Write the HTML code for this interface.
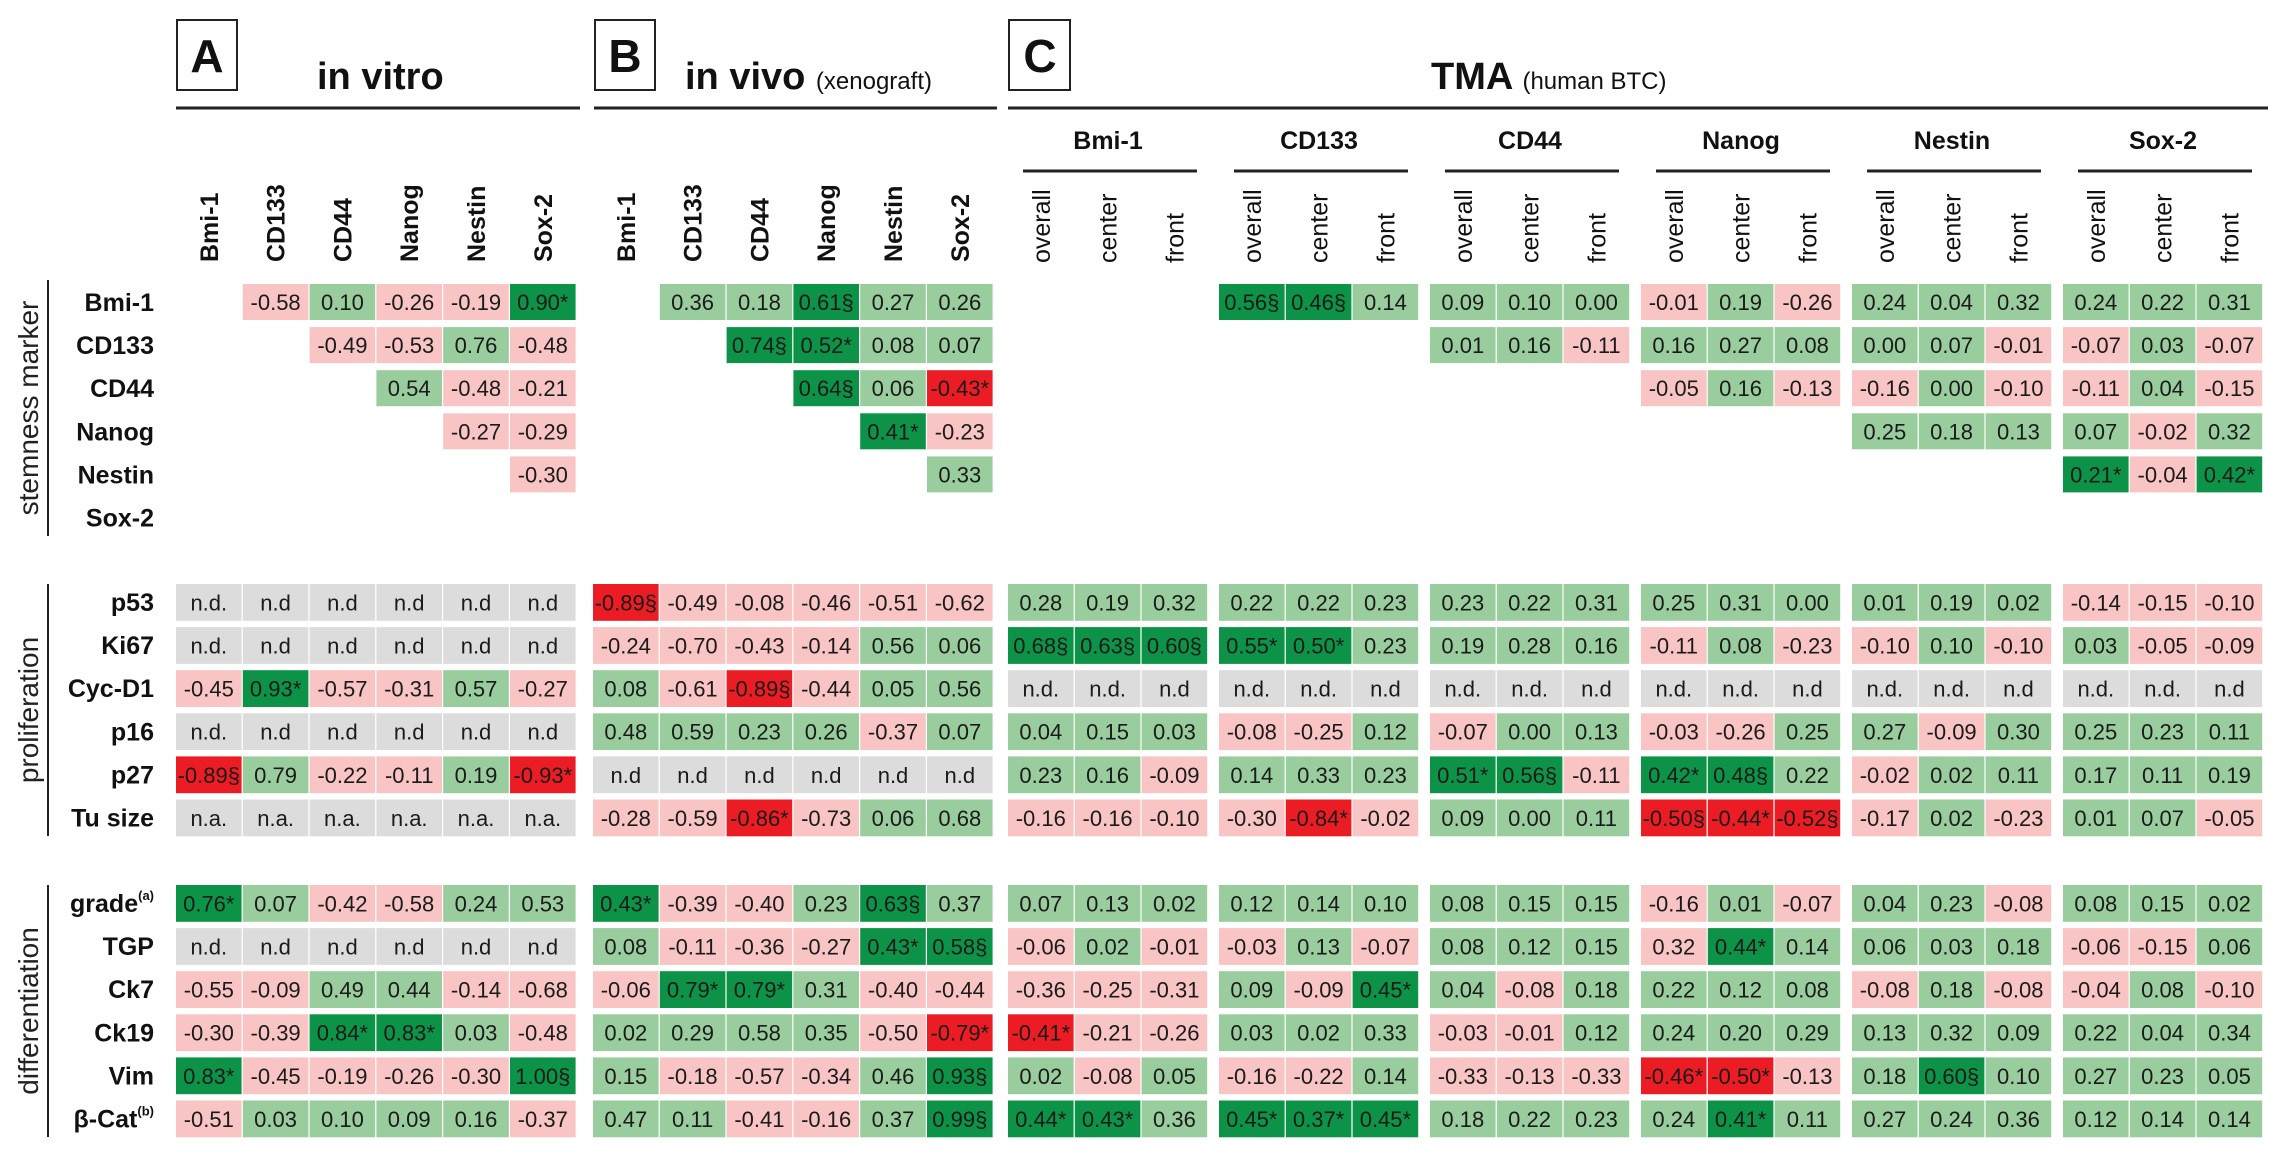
<!DOCTYPE html>
<html><head><meta charset="utf-8"><style>
html,body{margin:0;padding:0;background:#fff;}
svg{display:block;font-family:"Liberation Sans",Arial,sans-serif;}
</style></head><body>
<svg id="fig" width="2280" height="1165" viewBox="0 0 2280 1165" xmlns="http://www.w3.org/2000/svg">
<rect x="0" y="0" width="2280" height="1165" fill="#fff"/>
<g id="g-head">
<rect x="177" y="20" width="60" height="70" fill="none" stroke="#222" stroke-width="2"/>
<text x="207" y="72" text-anchor="middle" font-size="46" font-weight="bold" fill="#111">A</text>
<text x="317" y="89" font-size="38" font-weight="bold" fill="#111">in vitro</text>
<line x1="176" y1="108" x2="580" y2="108" stroke="#222" stroke-width="3"/>
<rect x="595" y="20" width="60" height="70" fill="none" stroke="#222" stroke-width="2"/>
<text x="625" y="72" text-anchor="middle" font-size="46" font-weight="bold" fill="#111">B</text>
<text x="685" y="89" font-size="38" font-weight="bold" fill="#111">in vivo <tspan font-size="24" font-weight="normal">(xenograft)</tspan></text>
<line x1="594" y1="108" x2="997" y2="108" stroke="#222" stroke-width="3"/>
<rect x="1009" y="20" width="61" height="70" fill="none" stroke="#222" stroke-width="2"/>
<text x="1040" y="72" text-anchor="middle" font-size="46" font-weight="bold" fill="#111">C</text>
<text x="1431" y="89" font-size="38" font-weight="bold" fill="#111">TMA <tspan font-size="24" font-weight="normal">(human BTC)</tspan></text>
<line x1="1008" y1="108" x2="2268" y2="108" stroke="#222" stroke-width="3"/>
</g>
<g id="g-cells"></g>
<g id="g-labels"></g>
</svg>
<script>
const markers = ["Bmi-1","CD133","CD44","Nanog","Nestin","Sox-2"];
const subCols = ["overall","center","front"];
const sectionNames = ["stemness marker","proliferation","differentiation"];
const rowLabels = [
  ["Bmi-1","CD133","CD44","Nanog","Nestin","Sox-2"],
  ["p53","Ki67","Cyc-D1","p16","p27","Tu size"],
  ["grade","TGP","Ck7","Ck19","Vim","\u03b2-Cat"]
];
const rowSup = {"grade":"(a)","\u03b2-Cat":"(b)"};

const valsA = [
  ["","-0.58","0.10","-0.26","-0.19","0.90*"],
  ["","","-0.49","-0.53","0.76","-0.48"],
  ["","","","0.54","-0.48","-0.21"],
  ["","","","","-0.27","-0.29"],
  ["","","","","","-0.30"],
  ["","","","","",""],
  ["n.d.","n.d","n.d","n.d","n.d","n.d"],
  ["n.d.","n.d","n.d","n.d","n.d","n.d"],
  ["-0.45","0.93*","-0.57","-0.31","0.57","-0.27"],
  ["n.d.","n.d","n.d","n.d","n.d","n.d"],
  ["-0.89\u00a7","0.79","-0.22","-0.11","0.19","-0.93*"],
  ["n.a.","n.a.","n.a.","n.a.","n.a.","n.a."],
  ["0.76*","0.07","-0.42","-0.58","0.24","0.53"],
  ["n.d.","n.d","n.d","n.d","n.d","n.d"],
  ["-0.55","-0.09","0.49","0.44","-0.14","-0.68"],
  ["-0.30","-0.39","0.84*","0.83*","0.03","-0.48"],
  ["0.83*","-0.45","-0.19","-0.26","-0.30","1.00\u00a7"],
  ["-0.51","0.03","0.10","0.09","0.16","-0.37"]
];
const valsB = [
  ["","0.36","0.18","0.61\u00a7","0.27","0.26"],
  ["","","0.74\u00a7","0.52*","0.08","0.07"],
  ["","","","0.64\u00a7","0.06","-0.43*"],
  ["","","","","0.41*","-0.23"],
  ["","","","","","0.33"],
  ["","","","","",""],
  ["-0.89\u00a7","-0.49","-0.08","-0.46","-0.51","-0.62"],
  ["-0.24","-0.70","-0.43","-0.14","0.56","0.06"],
  ["0.08","-0.61","-0.89\u00a7","-0.44","0.05","0.56"],
  ["0.48","0.59","0.23","0.26","-0.37","0.07"],
  ["n.d","n.d","n.d","n.d","n.d","n.d"],
  ["-0.28","-0.59","-0.86*","-0.73","0.06","0.68"],
  ["0.43*","-0.39","-0.40","0.23","0.63\u00a7","0.37"],
  ["0.08","-0.11","-0.36","-0.27","0.43*","0.58\u00a7"],
  ["-0.06","0.79*","0.79*","0.31","-0.40","-0.44"],
  ["0.02","0.29","0.58","0.35","-0.50","-0.79*"],
  ["0.15","-0.18","-0.57","-0.34","0.46","0.93\u00a7"],
  ["0.47","0.11","-0.41","-0.16","0.37","0.99\u00a7"]
];
const valsC = [
  ["","","", "0.56\u00a7","0.46\u00a7","0.14", "0.09","0.10","0.00", "-0.01","0.19","-0.26", "0.24","0.04","0.32", "0.24","0.22","0.31"],
  ["","","", "","","", "0.01","0.16","-0.11", "0.16","0.27","0.08", "0.00","0.07","-0.01", "-0.07","0.03","-0.07"],
  ["","","", "","","", "","","", "-0.05","0.16","-0.13", "-0.16","0.00","-0.10", "-0.11","0.04","-0.15"],
  ["","","", "","","", "","","", "","","", "0.25","0.18","0.13", "0.07","-0.02","0.32"],
  ["","","", "","","", "","","", "","","", "","","", "0.21*","-0.04","0.42*"],
  ["","","", "","","", "","","", "","","", "","","", "","",""],
  ["0.28","0.19","0.32", "0.22","0.22","0.23", "0.23","0.22","0.31", "0.25","0.31","0.00", "0.01","0.19","0.02", "-0.14","-0.15","-0.10"],
  ["0.68\u00a7","0.63\u00a7","0.60\u00a7", "0.55*","0.50*","0.23", "0.19","0.28","0.16", "-0.11","0.08","-0.23", "-0.10","0.10","-0.10", "0.03","-0.05","-0.09"],
  ["n.d.","n.d.","n.d", "n.d.","n.d.","n.d", "n.d.","n.d.","n.d", "n.d.","n.d.","n.d", "n.d.","n.d.","n.d", "n.d.","n.d.","n.d"],
  ["0.04","0.15","0.03", "-0.08","-0.25","0.12", "-0.07","0.00","0.13", "-0.03","-0.26","0.25", "0.27","-0.09","0.30", "0.25","0.23","0.11"],
  ["0.23","0.16","-0.09", "0.14","0.33","0.23", "0.51*","0.56\u00a7","-0.11", "0.42*","0.48\u00a7","0.22", "-0.02","0.02","0.11", "0.17","0.11","0.19"],
  ["-0.16","-0.16","-0.10", "-0.30","-0.84*","-0.02", "0.09","0.00","0.11", "-0.50\u00a7","-0.44*","-0.52\u00a7", "-0.17","0.02","-0.23", "0.01","0.07","-0.05"],
  ["0.07","0.13","0.02", "0.12","0.14","0.10", "0.08","0.15","0.15", "-0.16","0.01","-0.07", "0.04","0.23","-0.08", "0.08","0.15","0.02"],
  ["-0.06","0.02","-0.01", "-0.03","0.13","-0.07", "0.08","0.12","0.15", "0.32","0.44*","0.14", "0.06","0.03","0.18", "-0.06","-0.15","0.06"],
  ["-0.36","-0.25","-0.31", "0.09","-0.09","0.45*", "0.04","-0.08","0.18", "0.22","0.12","0.08", "-0.08","0.18","-0.08", "-0.04","0.08","-0.10"],
  ["-0.41*","-0.21","-0.26", "0.03","0.02","0.33", "-0.03","-0.01","0.12", "0.24","0.20","0.29", "0.13","0.32","0.09", "0.22","0.04","0.34"],
  ["0.02","-0.08","0.05", "-0.16","-0.22","0.14", "-0.33","-0.13","-0.33", "-0.46*","-0.50*","-0.13", "0.18","0.60\u00a7","0.10", "0.27","0.23","0.05"],
  ["0.44*","0.43*","0.36", "0.45*","0.37*","0.45*", "0.18","0.22","0.23", "0.24","0.41*","0.11", "0.27","0.24","0.36", "0.12","0.14","0.14"]
];
// cells shown pink in the original despite a positive printed value: [panel,row,col]
const pinkOverrides = [["C",13,9]];

const NS = "http://www.w3.org/2000/svg";
const cellsG = document.getElementById("g-cells");
const labG = document.getElementById("g-labels");
const COL = 66.8, CW = 65.6, PITCH = 43.1, CH = 36.8;
const sectionTop = [284, 584, 885];
const panelX = {A:176, B:593};
function xA(i){return panelX.A + i*COL;}
function xB(i){return panelX.B + i*COL;}
function xC(i){return 1008 + Math.floor(i/3)*211 + (i%3)*COL;}
function yRow(r){return sectionTop[Math.floor(r/6)] + (r%6)*PITCH;}
function colorOf(v, panel, r, c){
  if(v.indexOf("n.")===0) return "#dcdcdc";
  for(const o of pinkOverrides){ if(o[0]===panel&&o[1]===r&&o[2]===c) return "#f8c4c4"; }
  const num = parseFloat(v);
  const sig = /[*\u00a7]/.test(v);
  if(num < 0) return sig ? "#ec1c24" : "#f8c4c4";
  return sig ? "#0c9347" : "#9acd9e";
}
function mk(tag, attrs, parent){
  const e = document.createElementNS(NS, tag);
  for(const k in attrs) e.setAttribute(k, attrs[k]);
  parent.appendChild(e);
  return e;
}
function drawPanel(vals, panel, xf){
  vals.forEach((row, r)=>{
    row.forEach((v, c)=>{
      if(v==="") return;
      const g = mk("g", {}, cellsG);
      
      
      const x = xf(c), y = yRow(r);
      const h = r<6 ? 36 : CH;
      const rc = mk("rect", {x:x.toFixed(1), y:y.toFixed(1), width:CW, height:h, fill:colorOf(v,panel,r,c)}, g);
      
      
      const t = mk("text", {x:(x+CW/2).toFixed(1), y:(y+h/2+8).toFixed(1), "text-anchor":"middle", "font-size":"22", fill:"#1a1a1a"}, g);
      
      
      t.textContent = v;
    });
  });
}
drawPanel(valsA, "A", xA);
drawPanel(valsB, "B", xB);
drawPanel(valsC, "C", xC);

// column headers A/B
function rotText(cx, yBottom, txt, weight, size, name){
  const t = mk("text", {transform:"translate("+cx.toFixed(1)+","+yBottom+") rotate(-90)", "font-size":size, "font-weight":weight, fill:"#111"}, labG);
  
  
  t.textContent = txt;
}
markers.forEach((m,i)=>{
  rotText(xA(i)+CW/2+9, 262, m, "bold", 25, "col-label-a-"+m.toLowerCase());
  rotText(xB(i)+CW/2+9, 262, m, "bold", 25, "col-label-b-"+m.toLowerCase());
});
// C group labels, underlines, sub labels
markers.forEach((m,g)=>{
  const gx = 1008 + g*211;
  const t = mk("text", {x:(gx+100).toFixed(1), y:"149", "text-anchor":"middle", "font-size":"25", "font-weight":"bold", fill:"#111"}, labG);
  
  
  t.textContent = m;
  const l = mk("line", {x1:gx+15, y1:171, x2:gx+189, y2:171, stroke:"#222", "stroke-width":3}, labG);
  
  
  subCols.forEach((s,j)=>{
    rotText(xC(g*3+j)+CW/2+9, 263, s, "normal", 25, "sub-label-"+m.toLowerCase()+"-"+s);
  });
});
// row labels
rowLabels.forEach((sec, si)=>{
  sec.forEach((lab, ri)=>{
    const r = si*6+ri;
    const y = yRow(r) + 18 + 9;
    const t = mk("text", {x:"154", y:y.toFixed(1), "text-anchor":"end", "font-size":"25", "font-weight":"bold", fill:"#111"}, labG);
    
    
    t.textContent = lab;
    if(rowSup[lab]){
      const sp = mk("tspan", {"font-size":"13", dy:"-12"}, t);
      sp.textContent = rowSup[lab];
    }
  });
});
// section brackets
const brackets = [[280,536],[584,836],[885,1137]];
sectionNames.forEach((n,i)=>{
  const b = brackets[i];
  const l = mk("line", {x1:48, y1:b[0], x2:48, y2:b[1], stroke:"#222", "stroke-width":2}, labG);
  
  
  const cy = (b[0]+b[1])/2;
  const t = mk("text", {transform:"translate(38,"+cy+") rotate(-90)", "text-anchor":"middle", "font-size":"28", fill:"#222"}, labG);
  
  
  t.textContent = n;
});
</script>
</body></html>
